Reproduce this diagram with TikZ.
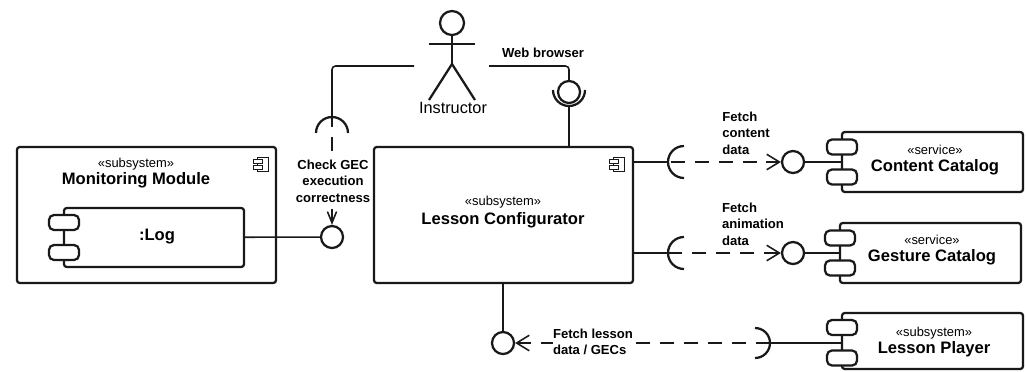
\documentclass[tikz,border=0pt]{standalone}
\usepackage{fontspec}
\setmainfont{Liberation Sans}
\usetikzlibrary{arrows.meta}
\newcommand{\stereo}[1]{{\fontsize{9.2}{14}\selectfont «#1»}}
\newcommand{\compname}[1]{{\fontsize{11.8}{14.5}\selectfont\bfseries #1}}
\tikzset{
  heavy/.style={line width=1.6pt,draw=black!90},
  conn/.style={line width=1.1pt,draw=black!90},
  depend/.style={conn,dash pattern=on 10pt off 7pt,-{Straight Barb[length=9pt,width=11pt]}},
  dependsmall/.style={conn,dash pattern=on 10pt off 7pt,dash phase=2.8pt,-{Straight Barb[length=8pt,width=6.5pt]}},
  compbox/.style={heavy,rectangle,rounded corners=2pt,inner sep=0pt},
  plug/.style={heavy,fill=white,rectangle,rounded corners=3.5pt,minimum width=0.75cm,minimum height=0.375cm,inner sep=0pt},
  iface/.style={heavy,fill=white,circle,minimum size=0.55cm,inner sep=0pt},
  comptext/.style={align=center,inner sep=0pt},
  msglabel/.style={font=\fontsize{9.3}{11.7}\selectfont\bfseries,inner sep=0pt},
  compicon/.pic={
    \draw[conn,line width=.6pt] (-5,-7) rectangle (6,7);
    \draw[conn,line width=.6pt,fill=white] (-9,-5) rectangle (0,-1);
    \draw[conn,line width=.6pt,fill=white] (-9,1) rectangle (0,5);
  }
}
\begin{document}
\begin{tikzpicture}[x=0.025cm,y=-0.025cm]
%
\useasboundingbox (0,0) rectangle (1026,371);
%
% components
\node[compbox,minimum width=6.475cm,minimum height=3.4cm] (mm) at (146.5,215) {};
\node[comptext] (mmtext) at (136,173) {\stereo{subsystem}\\\compname{Monitoring Module}};
\node[compbox,minimum width=4.5cm,minimum height=1.475cm] (log) at (154,237.5) {};
\node[plug] (logp1) at (64,222.5) {};
\node[plug] (logp2) at (64,252.5) {};
\node[inner sep=0pt] (logtext) at (157,237) {\compname{:Log}};
\pic at (262,164) {compicon};
%
\node[compbox,minimum width=6.475cm,minimum height=3.4cm] (lc) at (503.5,215) {};
\node[comptext] (lctext) at (503,212) {\stereo{subsystem}\\[2pt]\compname{Lesson Configurator}};
\pic at (618,164) {compicon};
%
\node[compbox,minimum width=4.525cm,minimum height=1.5cm] (cc) at (932.5,162) {};
\node[plug] (ccp1) at (842,147) {};
\node[plug] (ccp2) at (842,177) {};
\node[comptext] (cctext) at (935,160) {\stereo{service}\\\compname{Content Catalog}};
%
\node[compbox,minimum width=4.525cm,minimum height=1.5cm] (gc) at (930.5,253) {};
\node[plug] (gcp1) at (840,238) {};
\node[plug] (gcp2) at (840,268) {};
\node[comptext] (gctext) at (932,250) {\stereo{service}\\\compname{Gesture Catalog}};
%
\node[compbox,minimum width=4.525cm,minimum height=1.4cm] (lp) at (932.5,341) {};
\node[plug] (lpp1) at (842,327.5) {};
\node[plug] (lpp2) at (842,358) {};
\node[comptext] (lptext) at (934,342) {\stereo{subsystem}\\\compname{Lesson Player}};
%
% actor
\node[heavy,circle,minimum size=0.6cm,inner sep=0pt] (head) at (452,23) {};
\coordinate (hip) at (452,64);
\coordinate (armL) at (429,44);
\coordinate (armR) at (475,44);
\coordinate (footL) at (429,100);
\coordinate (footR) at (475,100);
\draw[heavy] (head) -- (hip);
\draw[heavy] (armL) -- (armR);
\draw[heavy] (footL) -- (hip) -- (footR);
\node[inner sep=0pt,font=\fontsize{11.6}{14}\selectfont] (instructor) at (453,108) {Instructor};
\coordinate (actorL) at (414,66);
\coordinate (actorR) at (489,66);
%
% provided interfaces
\node[iface] (ifcheck) at (332,237) {};
\node[iface] (ifweb) at (569,92) {};
\node[iface] (ifcontent) at (793,162) {};
\node[iface] (ifgesture) at (793,253) {};
\node[iface] (iflesson) at (503,343) {};
%
% required interfaces
\coordinate (sockcheck) at (332,117);
\coordinate (sockweb) at (569,106);
\coordinate (sockcontent) at (668,162);
\coordinate (sockgesture) at (668,253);
\coordinate (socklesson) at (770,343);
\draw[heavy] (sockcheck) arc[start angle=90,end angle=180,radius=0.4cm];
\draw[heavy] (sockcheck) arc[start angle=90,end angle=0,radius=0.4cm];
\draw[heavy] (sockweb) arc[start angle=270,end angle=180,radius=0.4cm];
\draw[heavy] (sockweb) arc[start angle=270,end angle=360,radius=0.4cm];
\draw[heavy] (sockcontent) arc[start angle=180,end angle=90,radius=0.4cm];
\draw[heavy] (sockcontent) arc[start angle=180,end angle=270,radius=0.4cm];
\draw[heavy] (sockgesture) arc[start angle=180,end angle=90,radius=0.4cm];
\draw[heavy] (sockgesture) arc[start angle=180,end angle=270,radius=0.4cm];
\draw[heavy] (socklesson) arc[start angle=0,end angle=90,radius=0.375cm];
\draw[heavy] (socklesson) arc[start angle=0,end angle=-90,radius=0.375cm];
%
% connectors
\draw[conn] (log) -- (ifcheck);
\draw[conn,rounded corners=2.5pt] (actorL) -| (sockcheck);
\draw[conn,rounded corners=2.5pt] (actorR) -| (ifweb);
\draw[conn] (sockweb) -- (sockweb |- lc.north);
\draw[conn] (lc.east |- sockcontent) -- (sockcontent);
\draw[conn] (lc.east |- sockgesture) -- (sockgesture);
\draw[conn] (iflesson) -- (iflesson |- lc.south);
\draw[conn] (ifcontent) -- (cc.west);
\draw[conn] (ifgesture) -- (gc.west);
\draw[conn] (socklesson) -- (lp.west |- socklesson);
%
\draw[dependsmall] (sockcheck) -- (ifcheck);
\draw[depend,dash phase=15pt] (sockcontent) -- (ifcontent);
\draw[depend] (sockgesture) -- (ifgesture);
\draw[depend] (socklesson) -- (iflesson);
%
% labels
\node[msglabel] (webtext) at (543,53) {Web browser};
\node[msglabel,align=center,fill=white] (checktext) at (333,181) {Check GEC\\execution\\correctness};
\node[msglabel,align=left] (contenttext) at (746,133) {Fetch\\content\\data};
\node[msglabel,align=left] (gesturetext) at (753,224) {Fetch\\animation\\data};
\node[msglabel,align=left,fill=white] (lessontext) at (593,342) {Fetch lesson\\data / GECs};
%
\end{tikzpicture}
\end{document}
